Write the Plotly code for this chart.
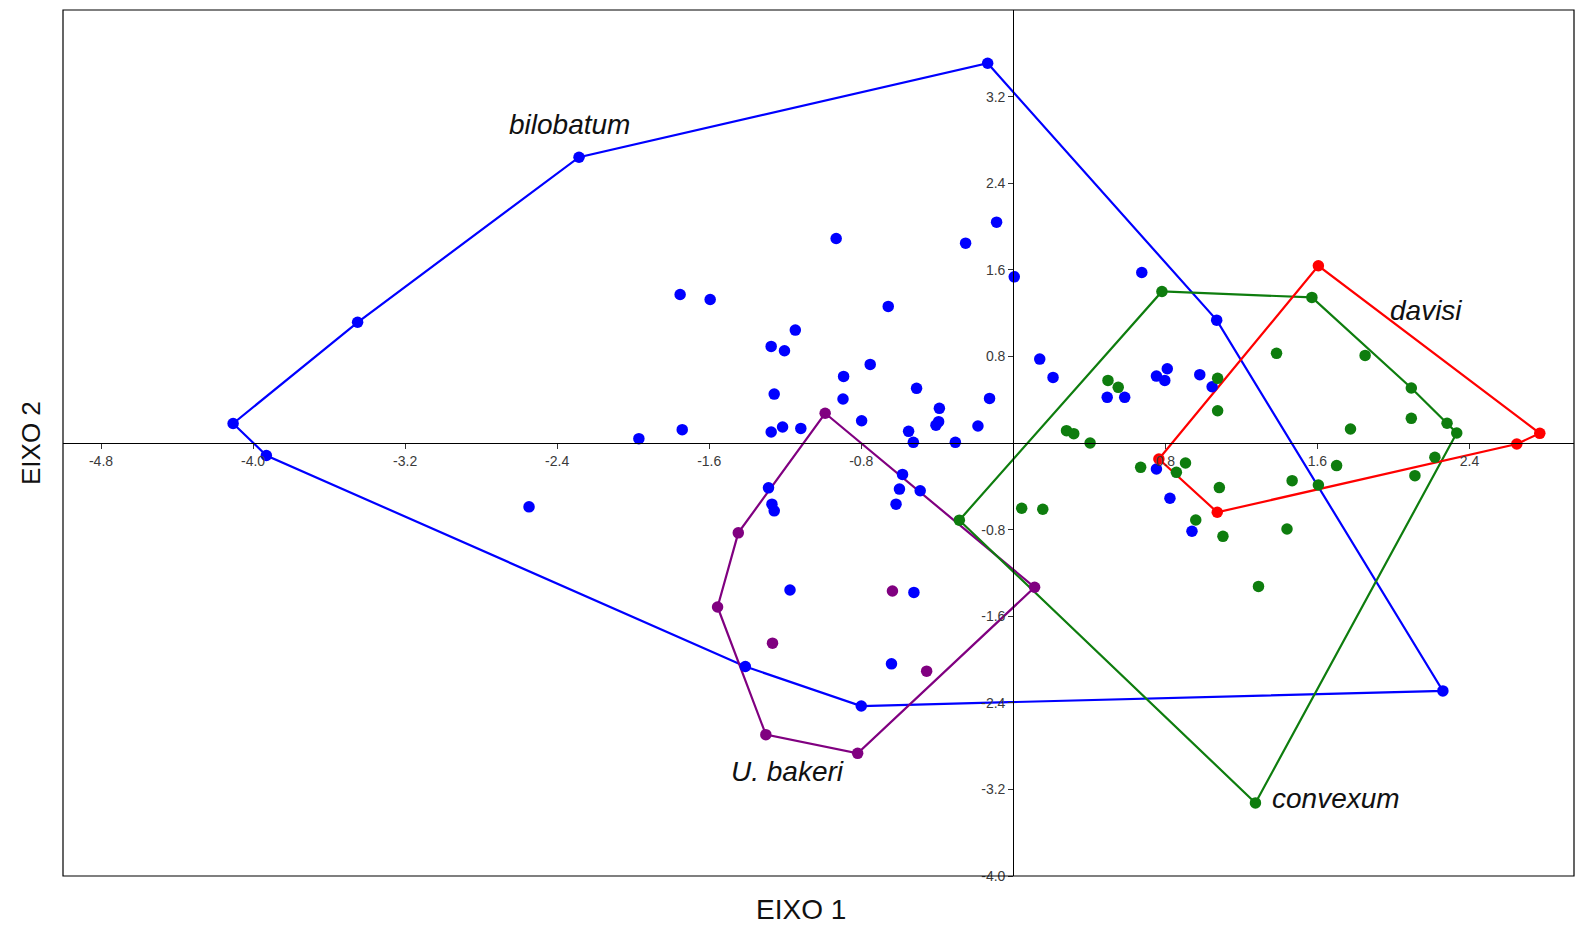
import plotly.graph_objects as go

# ---------------- data ----------------
bilobatum_x = [-0.135, 1.07, 2.26, -0.80, -1.41, -3.93, -4.105, -3.45, -2.285, -2.548,
               -0.088, -0.251, -0.932, 0.005, -1.753, -1.595, -0.658, -1.147, -1.274, -1.204,
               -0.753, 0.139, 0.209, -0.893, -1.258, -0.509, -0.896, -0.125, -0.389, -0.798,
               -0.393, -0.407, -0.186, -0.551, -0.526, -0.305, -1.118, -1.214, -1.274, -1.742,
               -1.970, -0.583, -0.599, -0.49, -0.617, -1.288, -1.27, -1.258, -1.175, -0.523,
               -0.641, 0.676, 0.494, 0.586, 0.753, 0.81, 0.797, 0.981, 1.046, 0.753,
               0.824, 0.94]
bilobatum_y = [3.508, 1.135, -2.29, -2.43, -2.065, -0.115, 0.18, 1.115, 2.64, -0.59,
               2.04, 1.846, 1.889, 1.535, 1.372, 1.326, 1.262, 1.043, 0.892, 0.852,
               0.726, 0.775, 0.606, 0.615, 0.452, 0.505, 0.406, 0.412, 0.32, 0.206,
               0.197, 0.165, 0.157, 0.108, 0.006, 0.006, 0.135, 0.148, 0.102, 0.123,
               0.04, -0.29, -0.426, -0.441, -0.565, -0.414, -0.565, -0.627, -1.358, -1.38,
               -2.04, 1.575, 0.422, 0.422, 0.618, 0.686, 0.578, 0.631, 0.52, -0.24,
               -0.51, -0.815]

convexum_x = [0.782, 1.571, 2.094, 2.282, 2.333, 1.274, -0.284,
              0.498, 0.552, 1.075, 1.075, 1.385, 1.851, 2.094, 1.774, 0.28, 0.318, 0.404,
              0.67, 0.906, 0.858, 1.084, 1.467, 1.605, 1.701, 2.113, 2.218, 0.044, 0.155,
              0.96, 1.103, 1.44, 1.29]
convexum_y = [1.40, 1.345, 0.508, 0.182, 0.092, -3.325, -0.713,
              0.578, 0.514, 0.597, 0.298, 0.828, 0.809, 0.228, 0.129, 0.114, 0.086, 0.0,
              -0.225, -0.185, -0.271, -0.412, -0.348, -0.388, -0.209, -0.302, -0.132, -0.603, -0.612,
              -0.711, -0.862, -0.794, -1.325]

davisi_x = [1.605, 2.77, 2.649, 1.073, 0.766]
davisi_y = [1.637, 0.089, -0.009, -0.64, -0.148]

bakeri_x = [-0.99, 0.112, -0.819, -1.302, -1.556, -1.447, -0.636, -1.267, -0.456]
bakeri_y = [0.275, -1.333, -2.867, -2.694, -1.515, -0.83, -1.367, -1.849, -2.108]

x_tick_vals = [-4.8, -4.0, -3.2, -2.4, -1.6, -0.8, 0.8, 1.6, 2.4]
x_tick_text = ["-4.8", "-4.0", "-3.2", "-2.4", "-1.6", "-0.8", "0.8", "1.6", "2.4"]
y_tick_vals = [3.2, 2.4, 1.6, 0.8, -0.8, -1.6, -2.4, -3.2, -4.0]
y_tick_text = ["3.2", "2.4", "1.6", "0.8", "-0.8", "-1.6", "-2.4", "-3.2", "-4.0"]

groups = [
    ("bilobatum", bilobatum_x, bilobatum_y, "#0000FF"),
    ("U. bakeri", bakeri_x, bakeri_y, "#800080"),
    ("convexum", convexum_x, convexum_y, "#0E7D0E"),
    ("davisi", davisi_x, davisi_y, "#FF0000"),
]

# label anchor positions (data units)
label_pos = {
    "bilobatum": (-2.336, 2.944),
    "davisi": (2.172, 1.222),
    "U. bakeri": (-1.186, -3.037),
    "convexum": (1.698, -3.287),
}

X_RANGE = [-5.0, 2.95]
Y_RANGE = [-4.0, 4.0]


def convex_hull(xs, ys):
    pts = sorted(set(zip(xs, ys)))
    if len(pts) < 3:
        return pts

    def cross(o, a, b):
        return (a[0] - o[0]) * (b[1] - o[1]) - (a[1] - o[1]) * (b[0] - o[0])

    lower = []
    for p in pts:
        while len(lower) >= 2 and cross(lower[-2], lower[-1], p) <= 0:
            lower.pop()
        lower.append(p)
    upper = []
    for p in reversed(pts):
        while len(upper) >= 2 and cross(upper[-2], upper[-1], p) <= 0:
            upper.pop()
        upper.append(p)
    return lower[:-1] + upper[:-1]


fig = go.Figure()

for name, xs, ys, col in groups:
    hull = convex_hull(xs, ys)
    hx = [p[0] for p in hull] + [hull[0][0]]
    hy = [p[1] for p in hull] + [hull[0][1]]
    fig.add_trace(go.Scatter(x=hx, y=hy, mode="lines",
                             line=dict(color=col, width=2.2),
                             hoverinfo="skip", showlegend=False))

for name, xs, ys, col in groups:
    fig.add_trace(go.Scatter(x=xs, y=ys, mode="markers", name=name,
                             marker=dict(color=col, size=11.5, line=dict(width=0)),
                             showlegend=False))

label_font = dict(family="Liberation Sans Narrow, Arial Narrow, Liberation Sans, Arial",
                  size=28, color="#111111")
for name, (lx, ly) in label_pos.items():
    fig.add_annotation(x=lx, y=ly, xref="x", yref="y", text=f"<i>{name}</i>",
                       showarrow=False, font=label_font,
                       xanchor="center", yanchor="middle")

# axis titles
fig.add_annotation(x=0.5, y=0, xref="paper", yref="paper", text="EIXO 1",
                   showarrow=False,
                   font=dict(family="Liberation Sans, Arial", size=28, color="#111111"),
                   xanchor="center", yanchor="middle", yshift=-33, xshift=-18)
fig.add_annotation(x=0, y=0.5, xref="paper", yref="paper", text="EIXO 2",
                   showarrow=False,
                   font=dict(family="Liberation Sans, Arial", size=26, color="#111111"),
                   textangle=-90, xanchor="center", yanchor="middle", xshift=-32)

# frame
fig.add_shape(type="rect", xref="paper", yref="paper", x0=0, y0=0, x1=1, y1=1,
              line=dict(color="black", width=1.2), layer="above")

xpos = (0 - Y_RANGE[0]) / (Y_RANGE[1] - Y_RANGE[0])
ypos = (0 - X_RANGE[0]) / (X_RANGE[1] - X_RANGE[0])

tick_font = dict(family="Liberation Sans, Arial", size=14, color="#3a3a3a")

fig.update_layout(
    width=1575, height=927,
    margin=dict(l=63, r=1, t=10, b=51),
    paper_bgcolor="white", plot_bgcolor="white",
    xaxis=dict(range=X_RANGE, anchor="free", position=xpos,
               showgrid=False, zeroline=False, showline=True,
               linecolor="black", linewidth=1.3,
               ticks="outside", ticklen=5, tickwidth=1, tickcolor="#333",
               tickvals=x_tick_vals, ticktext=x_tick_text, tickfont=tick_font),
    yaxis=dict(range=Y_RANGE, anchor="free", position=ypos,
               showgrid=False, zeroline=False, showline=True,
               linecolor="black", linewidth=1.3,
               ticks="outside", ticklen=5, tickwidth=1, tickcolor="#333",
               tickvals=y_tick_vals, ticktext=y_tick_text, tickfont=tick_font),
)

# remove the browser's default 8px body margin so the figure fills the window exactly
fig.write_html("out.html",
               config={"displayModeBar": False},
               post_script="document.body.style.margin='0';document.body.style.overflow='hidden';")
